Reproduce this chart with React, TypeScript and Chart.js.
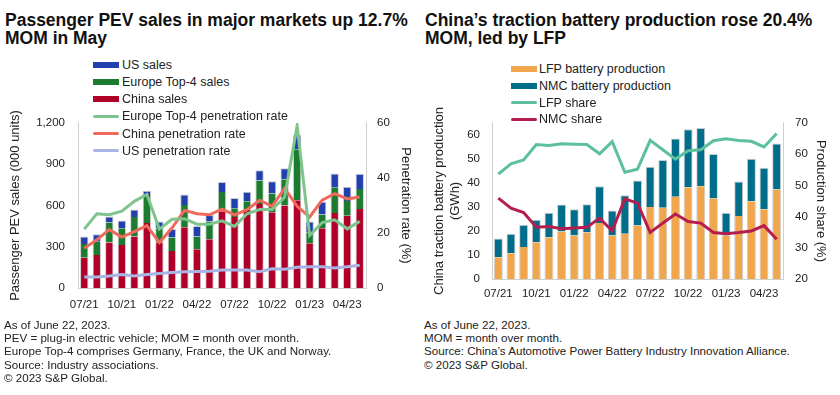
import React, { useEffect, useRef } from 'react';
import { Chart, registerables } from 'chart.js';

Chart.register(...registerables);

const FONT = "'Liberation Sans', Arial, sans-serif";

// ---- shared categories ----
const months = [
  '07/21', '08/21', '09/21', '10/21', '11/21', '12/21',
  '01/22', '02/22', '03/22', '04/22', '05/22', '06/22',
  '07/22', '08/22', '09/22', '10/22', '11/22', '12/22',
  '01/23', '02/23', '03/23', '04/23', '05/23',
];
const tickLabels = ['07/21', '10/21', '01/22', '04/22', '07/22', '10/22', '01/23', '04/23'];

// ---- left chart: PEV sales (000 units) ----
const chinaSales = [220, 240, 330, 313, 374, 472, 330, 269, 442, 281, 354, 557, 516, 569, 611, 550, 599, 638, 325, 435, 545, 525, 574];
const europeSales = [100, 97, 146, 122, 142, 190, 105, 98, 162, 93, 130, 140, 63, 61, 171, 137, 190, 371, 81, 100, 188, 108, 145];
const usSales = [54, 54, 44, 56, 54, 44, 49, 61, 75, 76, 49, 73, 76, 69, 73, 88, 81, 105, 78, 91, 100, 103, 112];
// penetration rate (%)
const europePen = [21.4, 27.0, 26.6, 27.9, 31.5, 34.0, 21.4, 25.0, 25.2, 23.2, 23.2, 24.4, 22.4, 27.0, 28.5, 28.5, 33.0, 59.0, 19.1, 23.8, 24.8, 21.5, 24.2];
const chinaPen = [14.4, 17.5, 21.2, 18.5, 20.5, 22.7, 16.5, 21.8, 28.2, 27.0, 26.6, 28.7, 26.6, 28.5, 31.9, 29.7, 36.2, 29.7, 25.8, 31.9, 34.3, 32.4, 33.1];
const usPen = [4.0, 4.0, 4.4, 4.9, 4.4, 4.9, 5.3, 5.6, 5.9, 6.0, 6.1, 6.5, 6.5, 6.5, 5.9, 7.0, 6.8, 7.5, 7.7, 7.7, 7.3, 7.7, 8.3];

// ---- right chart: traction battery production (GWh) ----
const lfpProd = [9.1, 10.7, 13.3, 15.3, 17.4, 19.8, 18.1, 19.5, 23.3, 18.1, 18.8, 22.3, 30.0, 29.7, 34.2, 38.2, 38.6, 33.5, 18.1, 26.2, 32.4, 29.0, 37.3];
const nmcProd = [7.8, 8.1, 9.3, 9.4, 10.2, 11.2, 10.9, 11.6, 15.3, 10.4, 16.1, 18.7, 16.7, 19.8, 24.3, 24.2, 24.3, 18.5, 9.5, 14.4, 17.7, 17.3, 19.1];
// production share (%)
const lfpShare = [53.6, 56.9, 58.1, 63.1, 62.8, 63.3, 63.2, 63.1, 60.1, 64.0, 54.2, 55.2, 64.4, 61.4, 58.4, 61.1, 61.4, 64.3, 64.9, 64.4, 64.1, 62.3, 66.6];
const nmcShare = [45.9, 42.7, 41.3, 36.6, 36.8, 36.1, 36.3, 36.6, 39.5, 35.4, 45.7, 44.3, 34.9, 37.9, 40.8, 38.4, 37.9, 34.9, 34.5, 34.9, 35.4, 37.1, 32.7];
// left-axis tick values of the battery chart (axis runs to 65)
const gwhTicks = [0, 10, 20, 30, 40, 50, 60];

const C = {
  us: '#2140ad',
  europe: '#1b7b2f',
  china: '#b0002a',
  europePen: '#7fc48c',
  chinaPen: '#ef6a5b',
  usPen: '#a8b4e4',
  lfp: '#f0a64c',
  nmc: '#006e8a',
  lfpShare: '#5cbf9e',
  nmcShare: '#b51d50',
  axis: '#d0d0d0',
  text: '#222222',
};

const tickFont = { family: FONT, size: 11.5 };
const titleFont = { family: FONT, size: 13 };

const xTickCallback = (_v: any, i: number) => (tickLabels.includes(months[i]) ? months[i] : '');

const barBorder = 'rgba(200,200,200,0.9)';

function leftConfig(): any {
  const line = (label: string, data: number[], color: string) => ({
    type: 'line', label, data, yAxisID: 'y1', borderColor: color, backgroundColor: color,
    borderWidth: 3, pointRadius: 0, tension: 0, order: 0, fill: false,
  });
  const bar = (label: string, data: number[], color: string, top: boolean) => ({
    type: 'bar', label, data, yAxisID: 'y', backgroundColor: color, order: 1,
    borderColor: barBorder,
    borderWidth: top ? { top: 1, left: 1, right: 1, bottom: 0 } : { top: 0, left: 1, right: 1, bottom: 0 },
    categoryPercentage: 1, barPercentage: 0.67,
  });
  return {
    type: 'bar',
    data: {
      labels: months,
      datasets: [
        line('Europe Top-4 penetration rate', europePen, C.europePen),
        line('China penetration rate', chinaPen, C.chinaPen),
        line('US penetration rate', usPen, C.usPen),
        bar('China sales', chinaSales, C.china, false),
        bar('Europe Top-4 sales', europeSales, C.europe, false),
        bar('US sales', usSales, C.us, true),
      ],
    },
    options: {
      animation: false,
      responsive: false,
      maintainAspectRatio: false,
      layout: { padding: 0 },
      plugins: { legend: { display: false }, tooltip: { enabled: false } },
      scales: {
        x: {
          stacked: true,
          grid: { display: false, drawTicks: false },
          border: { display: true, color: C.axis, width: 1 },
          ticks: { autoSkip: false, maxRotation: 0, minRotation: 0, padding: 10, font: tickFont, color: C.text, callback: xTickCallback },
          afterFit: (s: any) => { s.height = 32; },
        },
        y: {
          stacked: true,
          position: 'left',
          min: 0, max: 1200,
          grid: { display: false, drawTicks: false },
          border: { display: true, color: C.axis, width: 1 },
          ticks: { stepSize: 300, padding: 13, font: tickFont, color: C.text, callback: (v: any) => Number(v).toLocaleString('en-US') },
          title: { display: true, text: 'Passenger PEV sales (000 units)', font: titleFont, color: C.text, padding: { top: 8, bottom: 0 } },
          afterFit: (s: any) => { s.width = 78; },
        },
        y1: {
          position: 'right',
          min: 0, max: 60,
          grid: { display: false, drawTicks: false },
          border: { display: true, color: C.axis, width: 1 },
          ticks: { stepSize: 20, padding: 11, font: tickFont, color: C.text },
          title: { display: true, text: 'Penetration rate (%)', font: titleFont, color: C.text, padding: { top: 7, bottom: 0 } },
          afterFit: (s: any) => { s.width = 54; },
        },
      },
    },
  };
}

function rightConfig(): any {
  const line = (label: string, data: number[], color: string) => ({
    type: 'line', label, data, yAxisID: 'y1', borderColor: color, backgroundColor: color,
    borderWidth: 3, pointRadius: 0, tension: 0, order: 0, fill: false,
  });
  const bar = (label: string, data: number[], color: string, top: boolean) => ({
    type: 'bar', label, data, yAxisID: 'y', backgroundColor: color, order: 1,
    borderColor: barBorder,
    borderWidth: top ? { top: 1, left: 1, right: 1, bottom: 0 } : { top: 0, left: 1, right: 1, bottom: 0 },
    categoryPercentage: 1, barPercentage: 0.71,
  });
  return {
    type: 'bar',
    data: {
      labels: months,
      datasets: [
        line('LFP share', lfpShare, C.lfpShare),
        line('NMC share', nmcShare, C.nmcShare),
        bar('LFP battery production', lfpProd, C.lfp, false),
        bar('NMC battery production', nmcProd, C.nmc, true),
      ],
    },
    options: {
      animation: false,
      responsive: false,
      maintainAspectRatio: false,
      layout: { padding: 0 },
      plugins: { legend: { display: false }, tooltip: { enabled: false } },
      scales: {
        x: {
          stacked: true,
          grid: { display: false, drawTicks: false },
          border: { display: true, color: C.axis, width: 1 },
          ticks: { autoSkip: false, maxRotation: 0, minRotation: 0, padding: 8, font: tickFont, color: C.text, callback: xTickCallback },
          afterFit: (s: any) => { s.height = 32; },
        },
        y: {
          stacked: true,
          position: 'left',
          min: 0, max: 65,
          grid: { display: false, drawTicks: false },
          border: { display: true, color: C.axis, width: 1 },
          ticks: { stepSize: 10, padding: 12, font: tickFont, color: C.text },
          afterBuildTicks: (s: any) => { s.ticks = gwhTicks.map((v) => ({ value: v })); },
          title: { display: true, text: ['China traction battery production', '(GWh)'], font: titleFont, color: C.text, padding: { top: 12, bottom: 0 } },
          afterFit: (s: any) => { s.width = 72; },
        },
        y1: {
          position: 'right',
          min: 20, max: 70,
          grid: { display: false, drawTicks: false },
          border: { display: true, color: C.axis, width: 1 },
          ticks: { stepSize: 5, padding: 12, font: tickFont, color: C.text },
          title: { display: true, text: 'Production share (%)', font: titleFont, color: C.text, padding: { top: 12, bottom: 0 } },
          afterFit: (s: any) => { s.width = 57; },
        },
      },
    },
  };
}

function ChartCanvas({ config, left, top, width, height }: any) {
  const ref = useRef<HTMLCanvasElement | null>(null);
  useEffect(() => {
    if (!ref.current) return;
    const chart = new Chart(ref.current, config());
    return () => chart.destroy();
  }, []);
  return (
    <canvas
      ref={ref}
      width={width}
      height={height}
      style={{ position: 'absolute', left, top, width, height }}
    />
  );
}

type LegendItem = { label: string; color: string; kind: 'bar' | 'line' };

function Legend({ items, left, top, rowH, swatchX, textX }: any) {
  return (
    <div style={{ position: 'absolute', left: 0, top: 0, pointerEvents: 'none' }}>
      {items.map((it: LegendItem, i: number) => {
        const cy = top + i * rowH;
        const h = it.kind === 'bar' ? 6 : 3;
        return (
          <React.Fragment key={it.label}>
            <div style={{ position: 'absolute', left: left + swatchX, top: cy - h / 2, width: 26, height: h, background: it.color, borderRadius: it.kind === 'line' ? 1.5 : 0 }} />
            <div style={{ position: 'absolute', left: left + textX, top: cy - 8, height: 16, lineHeight: '16px', fontSize: 12.5, color: C.text, whiteSpace: 'nowrap' }}>{it.label}</div>
          </React.Fragment>
        );
      })}
    </div>
  );
}

const leftLegend: LegendItem[] = [
  { label: 'US sales', color: C.us, kind: 'bar' },
  { label: 'Europe Top-4 sales', color: C.europe, kind: 'bar' },
  { label: 'China sales', color: C.china, kind: 'bar' },
  { label: 'Europe Top-4 penetration rate', color: C.europePen, kind: 'line' },
  { label: 'China penetration rate', color: C.chinaPen, kind: 'line' },
  { label: 'US penetration rate', color: C.usPen, kind: 'line' },
];

const rightLegend: LegendItem[] = [
  { label: 'LFP battery production', color: C.lfp, kind: 'bar' },
  { label: 'NMC battery production', color: C.nmc, kind: 'bar' },
  { label: 'LFP share', color: C.lfpShare, kind: 'line' },
  { label: 'NMC share', color: C.nmcShare, kind: 'line' },
];

const leftNotes = [
  'As of June 22, 2023.',
  'PEV = plug-in electric vehicle; MOM = month over month.',
  'Europe Top-4 comprises Germany, France, the UK and Norway.',
  'Source: Industry associations.',
  '\u00a9 2023 S&P Global.',
];
const rightNotes = [
  'As of June 22, 2023.',
  'MOM = month over month.',
  'Source: China\u2019s Automotive Power Battery Industry Innovation Alliance.',
  '\u00a9 2023 S&P Global.',
];

export default function App() {
  useEffect(() => {
    Chart.defaults.font.family = FONT;
  }, []);
  const titleStyle: React.CSSProperties = {
    position: 'absolute', top: 11, fontSize: 17.5, fontWeight: 700, lineHeight: '18.4px', color: '#111', whiteSpace: 'nowrap',
  };
  const noteStyle: React.CSSProperties = {
    position: 'absolute', top: 318, fontSize: 11.6, lineHeight: '13.2px', color: C.text, whiteSpace: 'nowrap',
  };
  return (
    <div style={{ position: 'absolute', left: 0, top: 0, width: 840, height: 395, background: '#fff', fontFamily: FONT, overflow: 'hidden' }}>
      <div style={{ ...titleStyle, left: 5 }}>
        Passenger PEV sales in major markets up 12.7%<br />MOM in May
      </div>
      <div style={{ ...titleStyle, left: 425 }}>
        China&rsquo;s traction battery production rose 20.4%<br />MOM, led by LFP
      </div>

      <ChartCanvas config={leftConfig} left={0} top={103} width={420} height={217} />
      <ChartCanvas config={rightConfig} left={420} top={104} width={420} height={207} />

      <Legend items={leftLegend} left={0} top={65} rowH={17.15} swatchX={93} textX={122} />
      <Legend items={rightLegend} left={420} top={69.3} rowH={16.7} swatchX={91} textX={119} />

      <div style={{ ...noteStyle, left: 4 }}>
        {leftNotes.map((n) => <div key={n}>{n}</div>)}
      </div>
      <div style={{ ...noteStyle, left: 424 }}>
        {rightNotes.map((n) => <div key={n}>{n}</div>)}
      </div>
    </div>
  );
}
